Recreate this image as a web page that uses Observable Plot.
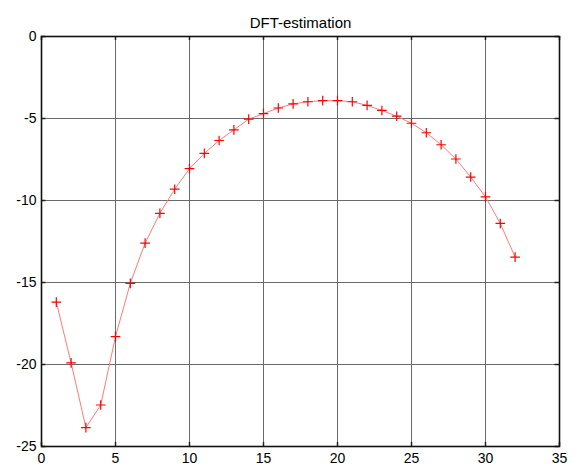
<!DOCTYPE html>
<html>
<head>
<meta charset="utf-8">
<script src="https://cdn.jsdelivr.net/npm/d3@7"></script>
<script src="https://cdn.jsdelivr.net/npm/@observablehq/plot@0.6"></script>
<style>
  html, body { margin: 0; padding: 0; background: #fff; }
  #chart { width: 581px; height: 469px; }
</style>
</head>
<body>
<div id="chart"></div>
<script>
const titleText = "DFT-estimation";
const xIndex = [1,2,3,4,5,6,7,8,9,10,11,12,13,14,15,16,17,18,19,20,21,22,23,24,25,26,27,28,29,30,31,32];
const dftValues = [-16.2,-19.9,-23.85,-22.47,-18.3,-15.05,-12.6,-10.78,-9.31,-8.06,-7.13,-6.34,-5.69,-5.04,-4.7,-4.36,-4.11,-3.98,-3.91,-3.91,-3.98,-4.2,-4.51,-4.86,-5.29,-5.87,-6.6,-7.47,-8.57,-9.78,-11.4,-13.45];
const xTicks = [0,5,10,15,20,25,30,35];
const yTicks = [0,-5,-10,-15,-20,-25];

const data = xIndex.map((x, i) => ({x, y: dftValues[i]}));

const chart = Plot.plot({
  width: 581,
  height: 469,
  marginLeft: 41,
  marginRight: 22,
  marginTop: 36,
  marginBottom: 23,
  style: {fontFamily: "'Liberation Sans', Arial, sans-serif", fontSize: "14px", background: "#fff", color: "#000"},
  x: {domain: [0, 35], ticks: xTicks},
  y: {domain: [-25, 0], ticks: yTicks},
  marks: [
    Plot.gridX(xTicks, {stroke: "#6a6a6a", strokeOpacity: 1, strokeWidth: 1}),
    Plot.gridY(yTicks, {stroke: "#6a6a6a", strokeOpacity: 1, strokeWidth: 1}),
    Plot.axisX(xTicks, {tickSize: 0, tickPadding: 7, fontSize: 14, label: null, tickFormat: d => String(d)}),
    Plot.axisY(yTicks, {tickSize: 0, tickPadding: 5, fontSize: 14, label: null, tickFormat: d => String(d)}),
    Plot.ruleX(xTicks, {x: d => d, y1: -25, y2: -24.75, stroke: "#222", strokeWidth: 1.5}),
    Plot.ruleX(xTicks, {x: d => d, y1: 0, y2: -0.25, stroke: "#222", strokeWidth: 1.5}),
    Plot.ruleY(yTicks, {y: d => d, x1: 0, x2: 0.3, stroke: "#222", strokeWidth: 1.5}),
    Plot.ruleY(yTicks, {y: d => d, x1: 35, x2: 34.7, stroke: "#222", strokeWidth: 1.5}),
    Plot.frame({stroke: "#111", strokeWidth: 1.6}),
    Plot.line(data, {x: "x", y: "y", stroke: "#ff7a7a", strokeWidth: 1}),
    Plot.dot(data, {x: "x", y: "y", symbol: "plus", stroke: "#ff0000", r: 3.2, strokeWidth: 1.2}),
    Plot.text([titleText], {frameAnchor: "top", dx: 0, dy: -19, text: d => d, fontSize: 15, fill: "#000"})
  ]
});
document.getElementById("chart").appendChild(chart);
</script>
</body>
</html>
